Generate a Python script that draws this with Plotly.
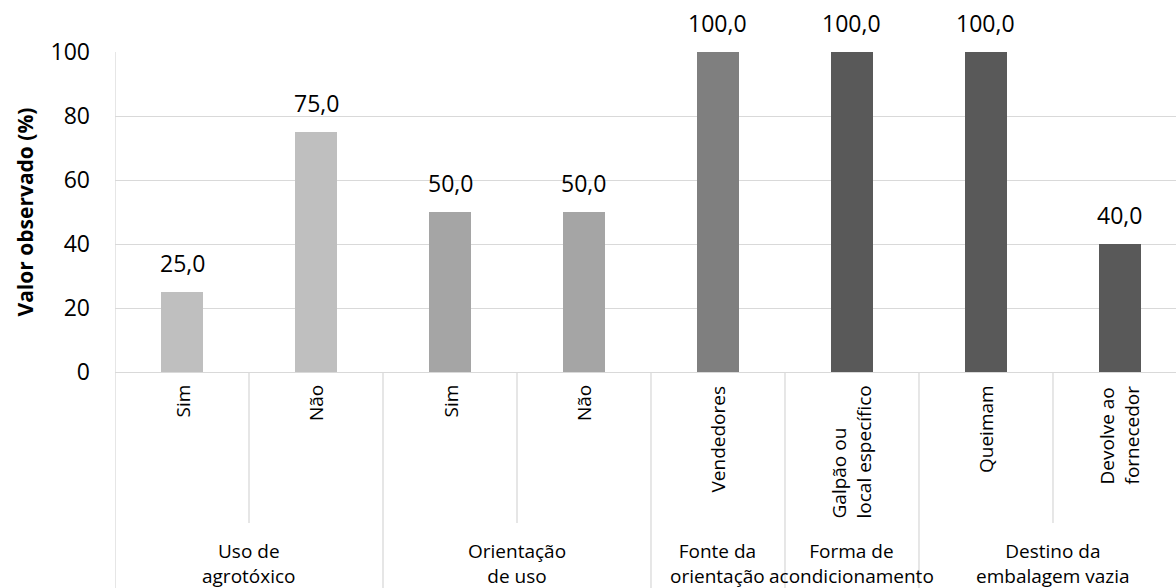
import plotly.graph_objects as go

# ---- data ----
sub_labels = ["Sim", "Não", "Sim", "Não", "Vendedores",
              "Galpão ou<br>local específico", "Queimam",
              "Devolve ao<br>fornecedor"]
values = [25.0, 75.0, 50.0, 50.0, 100.0, 100.0, 100.0, 40.0]
group_of = [0, 0, 1, 1, 2, 3, 4, 4]
group_labels = ["Uso de<br>agrotóxico", "Orientação<br>de uso",
                "Fonte da<br>orientação", "Forma de<br>acondicionamento",
                "Destino da<br>embalagem vazia"]
group_colors = ["#BFBFBF", "#A5A5A5", "#7F7F7F", "#595959", "#595959"]
y_ticks = [0, 20, 40, 60, 80, 100]
y_title = "Valor observado (%)"

FONT = "Open Sans"
n = len(values)
xs = list(range(n))
colors = [group_colors[g] for g in group_of]

fig = go.Figure()
fig.add_trace(go.Bar(
    x=xs, y=values, width=0.32,
    marker=dict(color=colors, line=dict(width=0)),
    hoverinfo="skip", showlegend=False,
))

annotations = []
# value labels
for x, v in zip(xs, values):
    annotations.append(dict(
        x=x, y=v, xref="x", yref="y", text=f"{v:.1f}".replace(".", ","),
        showarrow=False, yanchor="bottom", yshift=11,
        font=dict(family=FONT, size=23, color="#000000")))
# rotated sub-category labels
for x, lab in zip(xs, sub_labels):
    annotations.append(dict(
        x=x, y=0, xref="x", yref="paper", text=lab, textangle=-90,
        showarrow=False, yanchor="top", xanchor="center", yshift=-11,
        align="left",
        font=dict(family=FONT, size=19, color="#000000")))
# group labels
for gi, glab in enumerate(group_labels):
    members = [i for i, g in enumerate(group_of) if g == gi]
    cx = sum(members) / len(members)
    annotations.append(dict(
        x=cx, y=0, xref="x", yref="paper", text=glab,
        showarrow=False, yanchor="top", xanchor="center", yshift=-164,
        font=dict(family=FONT, size=19, color="#000000")))

# separator lines between categories
line_col = "#D9D9D9"
shapes = []
bottom_full = -216 / 320
bottom_short = -(523 - 372) / 320
shapes.append(dict(type="line", xref="x", yref="paper", x0=-0.5, x1=-0.5,
                   y0=bottom_full, y1=1, line=dict(color=line_col, width=1.3)))
for i in range(n - 1):
    same = group_of[i] == group_of[i + 1]
    shapes.append(dict(type="line", xref="x", yref="paper",
                       x0=i + 0.5, x1=i + 0.5,
                       y0=bottom_short if same else bottom_full, y1=0,
                       line=dict(color=line_col, width=1.3)))

fig.update_layout(
    width=1176, height=588,
    margin=dict(l=115, r=0, t=52, b=216, autoexpand=False),
    paper_bgcolor="white", plot_bgcolor="white",
    bargap=0,
    xaxis=dict(range=[-0.5, 7.418], showticklabels=False, showgrid=False,
               zeroline=False, showline=False, fixedrange=True,
               automargin=False),
    yaxis=dict(range=[0, 100], tickvals=y_ticks, automargin=False,
               tickfont=dict(family=FONT, size=23, color="#000000"),
               showgrid=True, gridcolor=line_col, gridwidth=1.3,
               zeroline=True, zerolinecolor=line_col, zerolinewidth=1.3,
               ticks="", ticklabelstandoff=24,
               title=dict(text=f"<b>{y_title}</b>",
                          font=dict(family=FONT, size=21, color="#000000"),
                          standoff=11)),
    annotations=annotations, shapes=shapes,
    font=dict(family=FONT, color="#000000"),
)

fig.write_html("out.html",
               config={"displayModeBar": False},
               post_script="document.body.style.margin='0';"
                           "document.body.style.overflow='hidden';")
